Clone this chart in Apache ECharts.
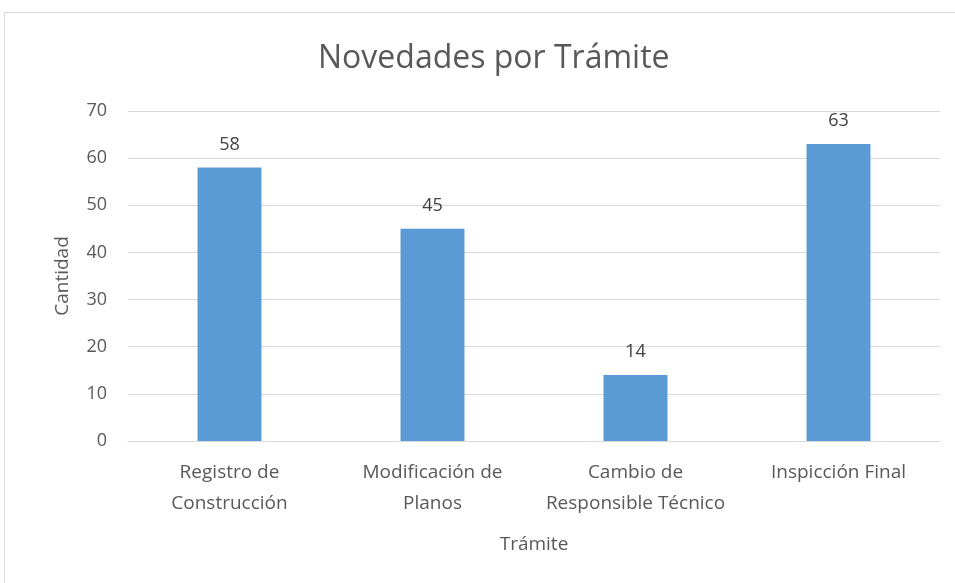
<!DOCTYPE html>
<html>
<head>
<meta charset="utf-8">
<script src="https://cdn.jsdelivr.net/npm/echarts@6/dist/echarts.min.js"></script>
<style>
  html, body { margin: 0; padding: 0; background: #ffffff; }
  #chart { width: 955px; height: 583px; }
</style>
</head>
<body>
<div id="chart"></div>
<script>
// Trámites y cantidad de novedades registradas
var categories = ['Registro de\nConstrucción', 'Modificación de\nPlanos', 'Cambio de\nResponsible Técnico', 'Inspicción Final'];
var cantidades = [58, 45, 14, 63];
var yTicks = { min: 0, max: 70, interval: 10 };

var FONT = '"Open Sans", sans-serif';
var GRAY = '#595959';

var chart = echarts.init(document.getElementById('chart'));
chart.setOption({
  animation: false,
  graphic: [{
    type: 'rect',
    shape: { x: 4.5, y: 12.5, width: 1000, height: 1000 },
    style: { fill: 'none', stroke: '#d9d9d9', lineWidth: 1 },
    silent: true
  }],
  title: {
    text: 'Novedades por Trámite',
    left: 313,
    top: 38,
    textStyle: { fontFamily: FONT, fontSize: 32, fontWeight: 'normal', color: GRAY }
  },
  grid: { left: 128, right: 15, top: 111, bottom: 142 },
  xAxis: {
    type: 'category',
    data: categories,
    name: 'Trámite',
    nameLocation: 'middle',
    nameGap: 94,
    nameTextStyle: { fontFamily: FONT, fontSize: 19, color: GRAY },
    axisLine: { lineStyle: { color: '#d9d9d9', width: 1 } },
    axisTick: { show: false },
    axisLabel: { interval: 0, hideOverlap: false, fontFamily: FONT, fontSize: 19, color: GRAY, lineHeight: 31, margin: 16 }
  },
  yAxis: {
    type: 'value',
    min: yTicks.min,
    max: yTicks.max,
    interval: yTicks.interval,
    name: 'Cantidad',
    nameLocation: 'middle',
    nameGap: 56,
    nameTextStyle: { fontFamily: FONT, fontSize: 19, color: GRAY },
    axisLine: { show: false },
    axisTick: { show: false },
    axisLabel: { fontFamily: FONT, fontSize: 18, color: GRAY, margin: 21 },
    splitLine: { lineStyle: { color: '#d9d9d9', width: 1 } }
  },
  series: [{
    type: 'bar',
    data: cantidades,
    barWidth: '31.5%',
    itemStyle: { color: '#5b9bd5' },
    label: {
      show: true,
      position: 'top',
      distance: 14,
      fontFamily: FONT,
      fontSize: 18,
      color: '#404040'
    }
  }]
});
</script>
</body>
</html>
